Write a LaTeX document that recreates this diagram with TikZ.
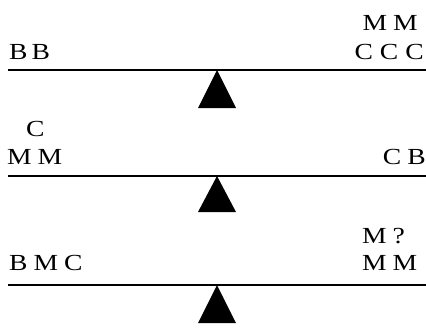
\documentclass[tikz,border=0pt]{standalone}
\usepackage{fontspec}
\setmainfont[FakeStretch=1.2]{Liberation Serif}
\begin{document}
\begin{tikzpicture}[x=1pt,y=-1pt,
  lbl/.style={inner sep=0pt,font=\fontsize{23}{23}\selectfont},
  beam/.style={line width=1.3pt,black},
  fulcrum/.style={fill=black,draw=none}]
\useasboundingbox (0,0) rectangle (426,327);
\newcommand{\gp}{\kern6pt}
% row 1
\draw[beam] (8,70) -- (426,70);
\fill[fulcrum] (217,70) -- (236,108) -- (198,108) -- cycle;
\node[lbl,anchor=base west] (l1) at (9,59) {B\kern4pt B};
\node[lbl,anchor=base east] (r1a) at (418,30) {M\gp M};
\node[lbl,anchor=base east] (r1b) at (424,59) {C\kern7pt C\kern7pt C};
% row 2
\draw[beam] (8,176) -- (426,176);
\fill[fulcrum] (217,176) -- (236,212) -- (198,212) -- cycle;
\node[lbl,anchor=base west] (l2a) at (26,136) {C};
\node[lbl,anchor=base west] (l2b) at (7,164) {M\gp M};
\node[lbl,anchor=base east] (r2) at (426,164) {C\gp B};
% row 3
\draw[beam] (8,285) -- (426,285);
\fill[fulcrum] (217,285) -- (236,323) -- (198,323) -- cycle;
\node[lbl,anchor=base west] (l3) at (9,270) {B\gp M\gp C};
\node[lbl,anchor=base west] (r3a) at (362,243) {M\gp ?};
\node[lbl,anchor=base west] (r3b) at (362,270) {M\gp M};
\end{tikzpicture}
\end{document}
